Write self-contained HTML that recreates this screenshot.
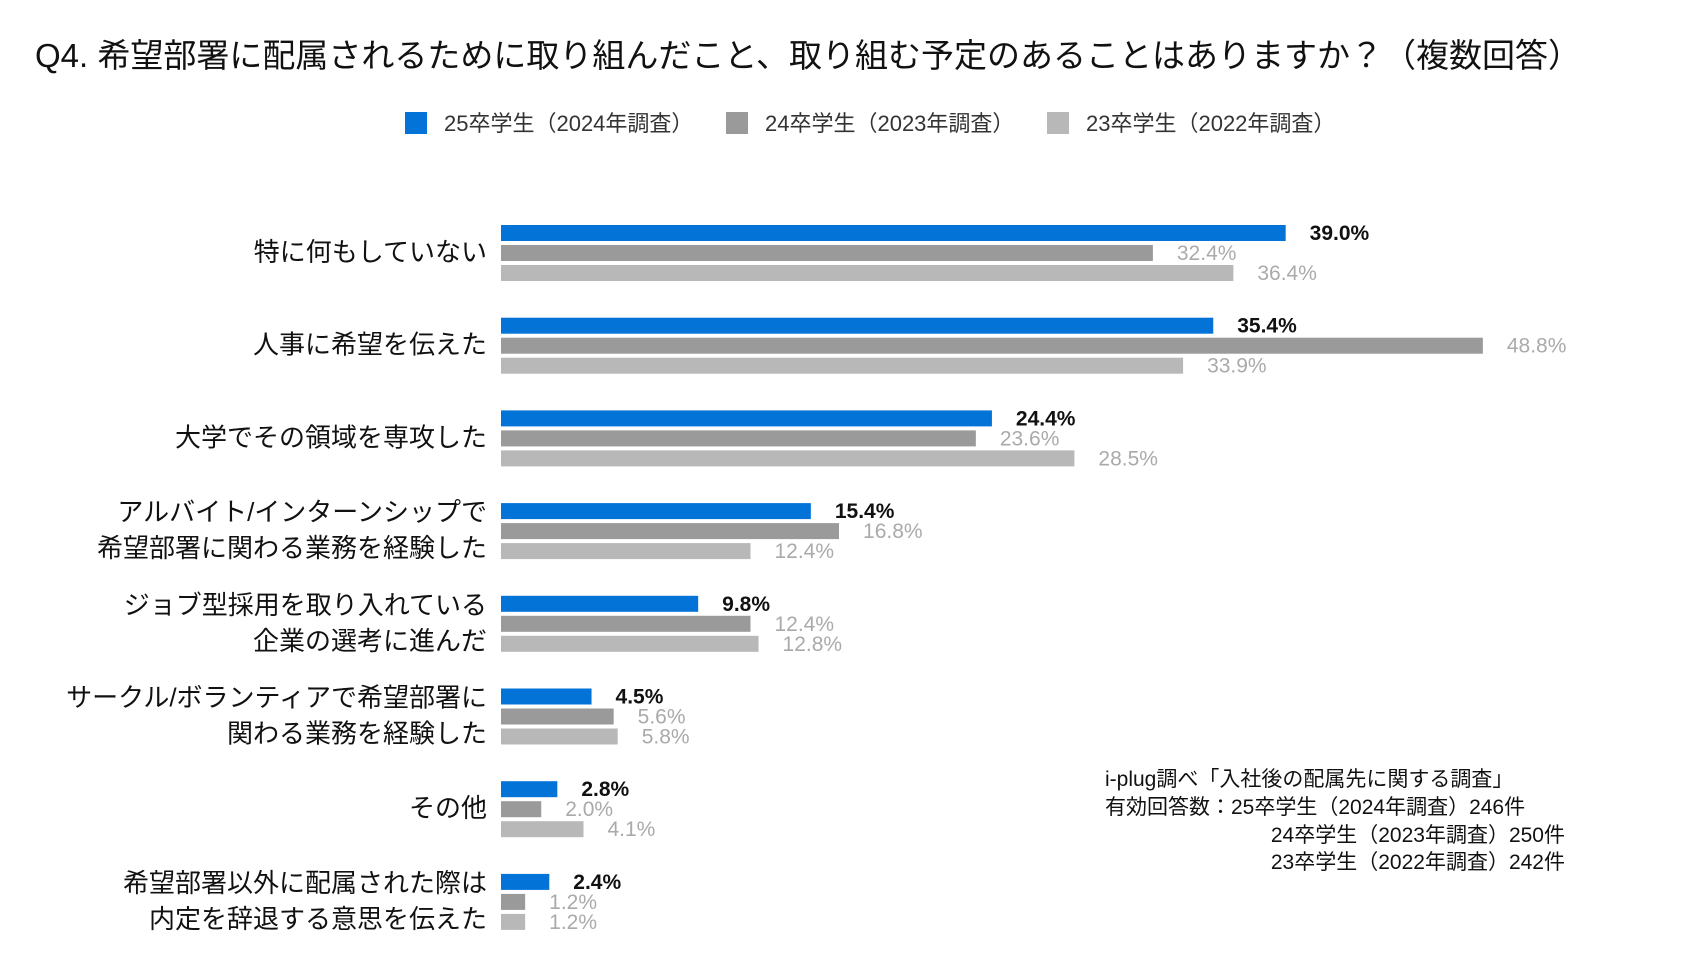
<!DOCTYPE html>
<html><head><meta charset="utf-8">
<style>
html,body{margin:0;padding:0;background:#fff;}
svg{display:block;font-family:"Liberation Sans","Noto Sans CJK JP",sans-serif;}
</style></head>
<body>
<svg id="chart" width="1698" height="964" viewBox="0 0 1698 964" xmlns="http://www.w3.org/2000/svg">
<text x="35" y="67" font-size="33" fill="#111">Q4. 希望部署に配属されるために取り組んだこと、取り組む予定のあることはありますか？（複数回答）</text>
<g font-size="22" fill="#333">
<rect x="405" y="112" width="22" height="22" fill="#0473d8"/>
<text x="444" y="131">25卒学生（2024年調査）</text>
<rect x="726" y="112" width="22" height="22" fill="#9a9a9a"/>
<text x="765" y="131">24卒学生（2023年調査）</text>
<rect x="1047" y="112" width="22" height="22" fill="#b8b8b8"/>
<text x="1086" y="131">23卒学生（2022年調査）</text>
</g>
<g id="bars"></g>
<g font-size="21" fill="#111">
<text x="1105" y="786">i-plug調べ「入社後の配属先に関する調査」</text>
<text x="1105" y="814">有効回答数：25卒学生（2024年調査）246件</text>
<text x="1565" y="842" text-anchor="end">24卒学生（2023年調査）250件</text>
<text x="1565" y="869" text-anchor="end">23卒学生（2022年調査）242件</text>
</g>
</svg>
<script>
const categories = [
  ["特に何もしていない"],
  ["人事に希望を伝えた"],
  ["大学でその領域を専攻した"],
  ["アルバイト/インターンシップで","希望部署に関わる業務を経験した"],
  ["ジョブ型採用を取り入れている","企業の選考に進んだ"],
  ["サークル/ボランティアで希望部署に","関わる業務を経験した"],
  ["その他"],
  ["希望部署以外に配属された際は","内定を辞退する意思を伝えた"]
];
const series25 = [39.0, 35.4, 24.4, 15.4, 9.8, 4.5, 2.8, 2.4];
const series24 = [32.4, 48.8, 23.6, 16.8, 12.4, 5.6, 2.0, 1.2];
const series23 = [36.4, 33.9, 28.5, 12.4, 12.8, 5.8, 4.1, 1.2];

const NS = "http://www.w3.org/2000/svg";
const g = document.getElementById("bars");
const x0 = 501, pxPer = 20.12;
const xScale = v => x0 + v * pxPer;
const groupY = i => 225 + i * 92.7;
const seriesDefs = [
  {vals: series25, color: "#0473d8", lab: "#111", bold: true},
  {vals: series24, color: "#9a9a9a", lab: "#aaaaaa", bold: false},
  {vals: series23, color: "#b8b8b8", lab: "#aaaaaa", bold: false}
];
function mk(tag, attrs){ const e = document.createElementNS(NS, tag); for (const k in attrs) e.setAttribute(k, attrs[k]); g.appendChild(e); return e; }
categories.forEach((lines, i) => {
  const gy = groupY(i);
  const cy = gy + 26;
  const n = lines.length;
  lines.forEach((ln, j) => {
    const t = mk("text", {x: 487, y: cy + 10 + (j - (n - 1) / 2) * 36, "text-anchor": "end", "font-size": "26", fill: "#111"});
    
    
    t.textContent = ln;
  });
  seriesDefs.forEach((s, k) => {
    const y = gy + k * 20;
    const v = s.vals[i];
    const r = mk("rect", {x: x0, y: y, width: xScale(v) - x0, height: 16, fill: s.color});
    
    
    const t = mk("text", {x: xScale(v) + 24, y: y + 15, "font-size": "21", fill: s.lab, "font-weight": s.bold ? "bold" : "normal"});
    
    
    t.textContent = v.toFixed(1) + "%";
  });
});
</script>
</body></html>
